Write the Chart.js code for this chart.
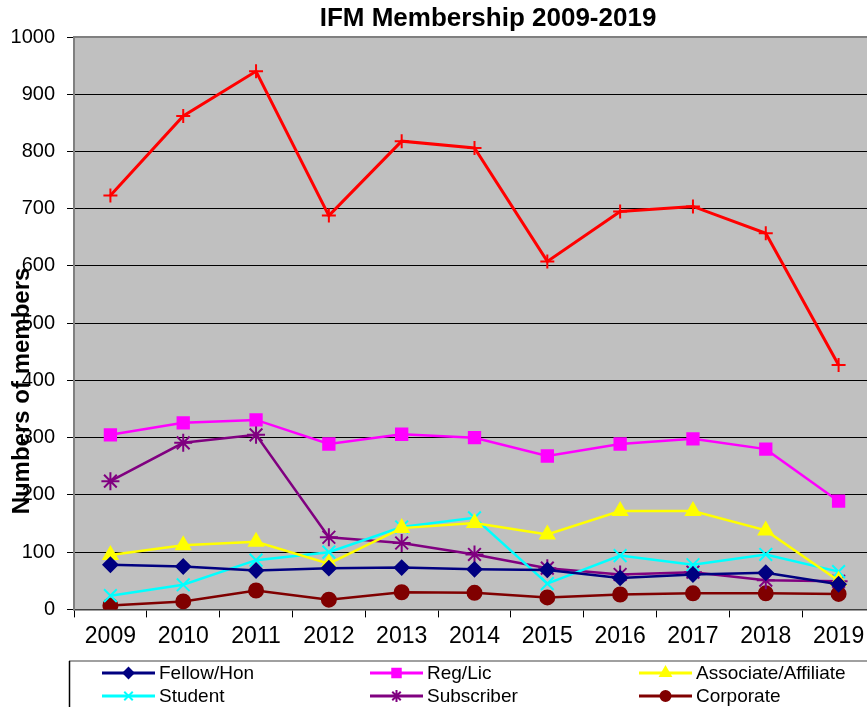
<!DOCTYPE html>
<html>
<head>
<meta charset="utf-8">
<script src="https://cdn.jsdelivr.net/npm/chart.js@4"></script>
<style>
  html, body { margin: 0; padding: 0; background: #fff; overflow: hidden; }
  #wrap { width: 867px; height: 707px; overflow: hidden; }
</style>
</head>
<body>
<div id="wrap"><canvas id="chart" width="886" height="707"></canvas></div>
<script>
const years = ['2009', '2010', '2011', '2012', '2013', '2014', '2015', '2016', '2017', '2018', '2019'];

const fellowHon = [78, 75, 68, 72, 73, 70, 69, 55, 61, 64, 44];
const regLic = [305, 326, 331, 289, 306, 300, 268, 289, 298, 280, 189];
const associate = [95, 112, 118, 80, 142, 151, 131, 172, 172, 138, 50];
const student = [24, 43, 86, 100, 144, 160, 45, 94, 78, 96, 66];
const subscriber = [224, 291, 305, 126, 116, 96, 72, 61, 65, 51, 49];
const corporate = [7, 14, 33, 17, 30, 29, 21, 26, 28, 28, 27];
const total = [723, 862, 940, 688, 818, 806, 608, 695, 704, 657, 427];

const FONT = '"Liberation Sans", Arial, sans-serif';

function series(label, data, color, style, radius, width) {
  return {
    label: label,
    data: data,
    borderColor: color,
    backgroundColor: color,
    pointBackgroundColor: color,
    pointBorderColor: color,
    pointStyle: style,
    pointRadius: radius,
    pointHoverRadius: radius,
    pointBorderWidth: 2,
    borderWidth: width,
    tension: 0
  };
}

const datasets = [
  series('Fellow/Hon', fellowHon, '#000080', 'rectRot', 7, 2.5),
  series('Reg/Lic', regLic, '#FF00FF', 'rect', 8, 2.5),
  series('Associate/Affiliate', associate, '#FFFF00', 'triangle', 8, 2.5),
  series('Student', student, '#00FFFF', 'crossRot', 9, 2.5),
  series('Subscriber', subscriber, '#800080', 'star', 9, 2.5),
  series('Corporate', corporate, '#800000', 'circle', 7, 2.5),
  series('Total', total, '#FF0000', 'cross', 7, 3)
];

// grey plot background + border
const plotBg = {
  id: 'plotBg',
  beforeDraw(chart) {
    const { ctx, chartArea: a } = chart;
    ctx.save();
    ctx.fillStyle = '#C0C0C0';
    ctx.fillRect(a.left, a.top, a.right - a.left, a.bottom - a.top);
    ctx.restore();
  },
  afterDraw(chart) {
    const { ctx, chartArea: a } = chart;
    ctx.save();
    ctx.strokeStyle = '#808080';
    ctx.lineWidth = 2;
    ctx.beginPath();
    ctx.moveTo(a.left, a.bottom);
    ctx.lineTo(a.left, a.top);
    ctx.lineTo(a.right, a.top);
    ctx.stroke();
    ctx.restore();
  }
};

// chart title and rotated y title (overlapping the tick labels like the original)
const texts = {
  id: 'texts',
  afterDraw(chart) {
    const ctx = chart.ctx;
    ctx.save();
    ctx.fillStyle = '#000';
    ctx.textAlign = 'center';
    ctx.textBaseline = 'middle';
    ctx.font = 'bold 26px ' + FONT;
    ctx.fillText('IFM Membership 2009-2019', 488, 19);
    ctx.translate(22, 391);
    ctx.rotate(-Math.PI / 2);
    ctx.font = 'bold 24px ' + FONT;
    ctx.fillText('Numbers of members', 0, 0);
    ctx.restore();
  }
};

// boxed legend, 3 columns x 2 rows, without the red total
const boxLegend = {
  id: 'boxLegend',
  afterDraw(chart) {
    const ctx = chart.ctx;
    const cols = [102, 370, 639];
    const rows = [673, 696];
    ctx.save();
    ctx.lineWidth = 1.5;
    ctx.strokeStyle = '#808080';
    ctx.beginPath();
    ctx.moveTo(69, 661);
    ctx.lineTo(900, 661);
    ctx.stroke();
    ctx.strokeStyle = '#000';
    ctx.beginPath();
    ctx.moveTo(69.5, 661);
    ctx.lineTo(69.5, 707);
    ctx.stroke();
    for (let i = 0; i < 6; i++) {
      const ds = chart.data.datasets[i];
      const x = cols[i % 3];
      const y = rows[Math.floor(i / 3)];
      ctx.strokeStyle = ds.borderColor;
      ctx.lineWidth = 3;
      ctx.beginPath();
      ctx.moveTo(x, y);
      ctx.lineTo(x + 53, y);
      ctx.stroke();
      ctx.fillStyle = ds.borderColor;
      ctx.lineWidth = 2;
      Chart.helpers.drawPoint(ctx, {
        pointStyle: ds.pointStyle,
        radius: Math.min(ds.pointRadius - 2, 6),
        borderWidth: 2,
        rotation: 0
      }, x + 26.5, y);
      ctx.fillStyle = '#000';
      ctx.font = '19px ' + FONT;
      ctx.textAlign = 'left';
      ctx.textBaseline = 'middle';
      ctx.fillText(ds.label, x + 57, y + 1);
    }
    ctx.restore();
  }
};

new Chart(document.getElementById('chart'), {
  type: 'line',
  data: { labels: years, datasets: datasets },
  plugins: [plotBg, texts, boxLegend],
  options: {
    responsive: false,
    animation: false,
    layout: { padding: { left: 0, right: 5, top: 37, bottom: 52 } },
    plugins: {
      legend: { display: false },
      tooltip: { enabled: false },
      title: { display: false }
    },
    scales: {
      x: {
        offset: true,
        grid: {
          display: true,
          offset: true,
          drawOnChartArea: false,
          color: '#000',
          tickLength: 8
        },
        border: { color: '#404040', width: 1.5 },
        ticks: {
          color: '#000',
          padding: 5,
          maxRotation: 0,
          font: { family: FONT, size: 23 }
        }
      },
      y: {
        min: 0,
        max: 1000,
        afterFit(scale) { scale.width = 74; },
        grid: { color: '#000', lineWidth: 1, tickLength: 7 },
        border: { color: '#808080', width: 2 },
        ticks: {
          stepSize: 100,
          color: '#000',
          padding: 12,
          font: { family: FONT, size: 20 },
          callback: v => String(v)
        }
      }
    }
  }
});
</script>
</body>
</html>
